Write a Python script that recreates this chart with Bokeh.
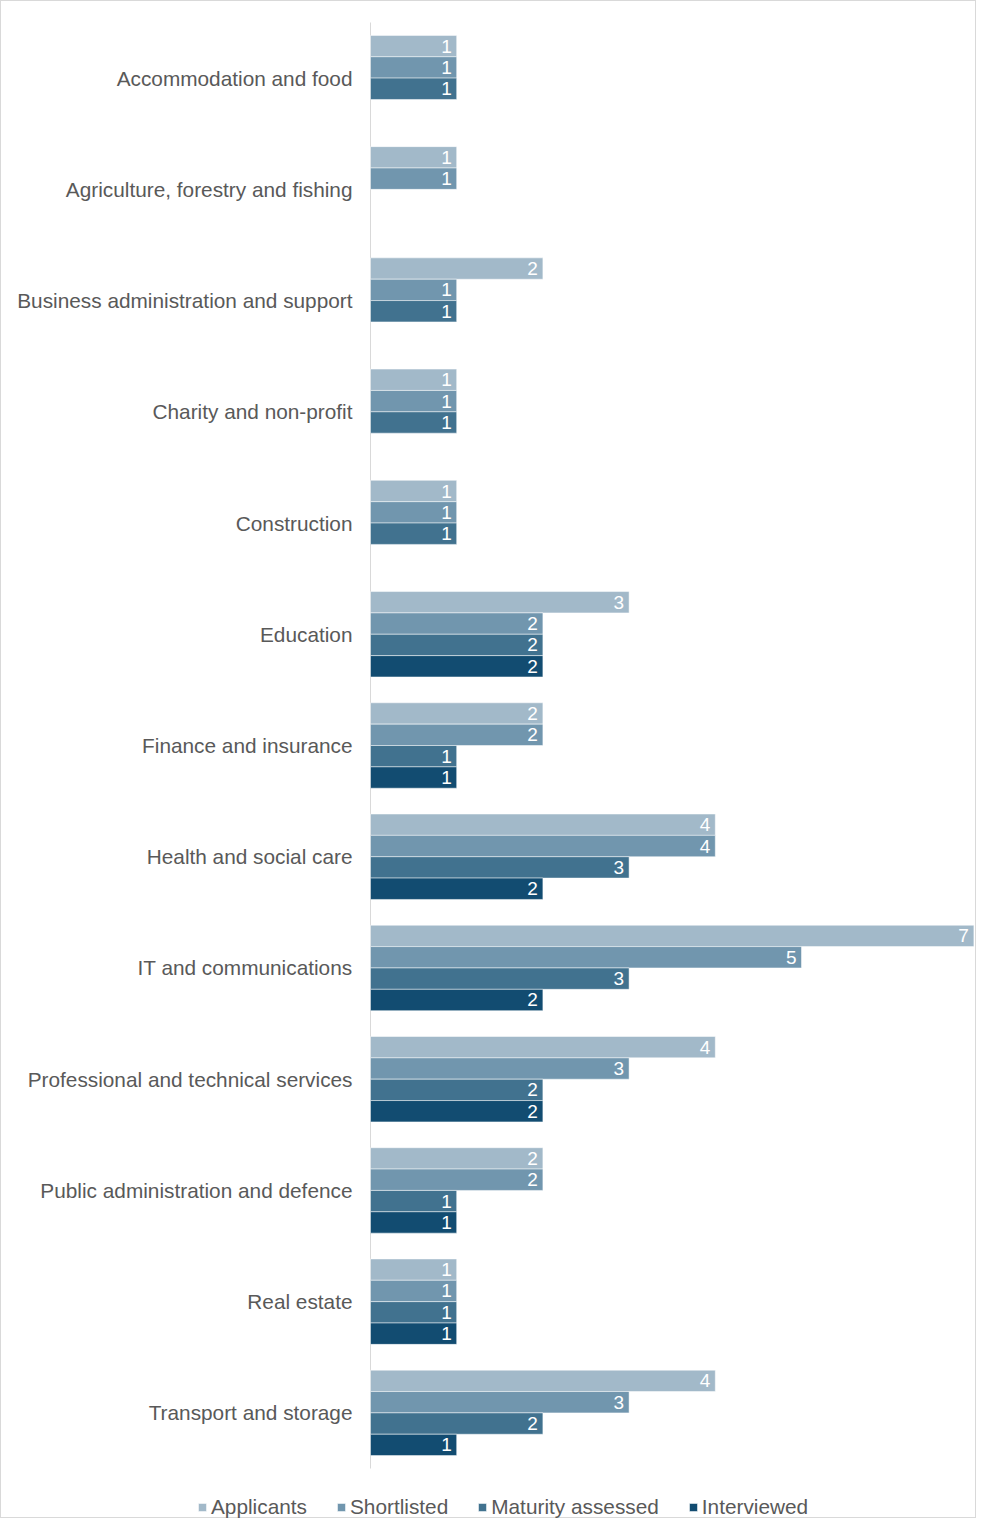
from bokeh.plotting import figure
from bokeh.models import ColumnDataSource, Range1d, Legend, LegendItem
from bokeh.core.properties import value
from bokeh.embed import file_html
from bokeh.resources import INLINE

categories = ["Accommodation and food", "Agriculture, forestry and fishing",
              "Business administration and support", "Charity and non-profit",
              "Construction", "Education", "Finance and insurance",
              "Health and social care", "IT and communications",
              "Professional and technical services", "Public administration and defence",
              "Real estate", "Transport and storage"]
applicants = [1, 1, 2, 1, 1, 3, 2, 4, 7, 4, 2, 1, 4]
shortlisted = [1, 1, 1, 1, 1, 2, 2, 4, 5, 3, 2, 1, 3]
maturity = [1, 0, 1, 1, 1, 2, 1, 3, 3, 2, 1, 1, 2]
interviewed = [0, 0, 0, 0, 0, 2, 1, 2, 2, 2, 1, 1, 1]

series_names = ["Applicants", "Shortlisted", "Maturity assessed", "Interviewed"]
series_values = [applicants, shortlisted, maturity, interviewed]
colors = ["#A2B9C9", "#7196AE", "#41728F", "#124C71"]
offsets = [0.288, 0.096, -0.096, -0.288]

FONT = "Liberation Sans"
W, H = 976, 1518
LEFT_PX, TOP_PX, BOTTOM_PX = 369, 21, 51
n = len(categories)
band_px = (H - TOP_PX - BOTTOM_PX) / n
unit_px = 86.2
pos = {c: n - 1 - i for i, c in enumerate(categories)}

p = figure(width=W, height=H, output_backend="svg", toolbar_location=None,
           x_range=Range1d(-LEFT_PX / unit_px, (W - LEFT_PX) / unit_px),
           y_range=Range1d(-0.5 - BOTTOM_PX / band_px, n - 0.5 + TOP_PX / band_px),
           min_border=0)
p.styles = {"border": "1px solid #D9D9D9"}
p.outline_line_color = None
p.grid.grid_line_color = None
p.axis.visible = False

# category axis line and labels
p.segment(x0=[0], y0=[-0.5], x1=[0], y1=[n - 0.5], line_color="#D9D9D9", line_width=1)
p.text(x=[0] * n, y=[pos[c] for c in categories], text=categories,
       x_offset=-18, text_align="right", text_baseline="middle",
       text_font=value(FONT), text_font_size="20.8px", text_color="#595959")

items = []
for name, vals, col, off in zip(series_names, series_values, colors, offsets):
    cats = [c for c, v in zip(categories, vals) if v > 0]
    vs = [v for v in vals if v > 0]
    ys = [pos[c] + off for c in cats]
    src = ColumnDataSource(dict(y=ys, val=vs, lab=[str(v) for v in vs]))
    r = p.hbar(y="y", right="val", left=0, height=0.192,
               source=src, fill_color=col, line_color="white", line_width=0.5)
    p.text(x="val", y="y", text="lab", source=src,
           text_align="right", text_baseline="middle", x_offset=-5,
           text_font=value(FONT), text_font_size="19px", text_color="#FFFFFF")
    items.append(LegendItem(label=name, renderers=[r]))

legend = Legend(items=items, orientation="horizontal", location=(196, 0),
                label_text_font=FONT, label_text_font_size="20.8px", label_text_color="#595959",
                glyph_width=10, glyph_height=10, label_standoff=4, spacing=29,
                border_line_color=None, background_fill_alpha=0, padding=4, margin=0)
p.add_layout(legend, "center")

open("out.html", "w").write(file_html(p, INLINE))
